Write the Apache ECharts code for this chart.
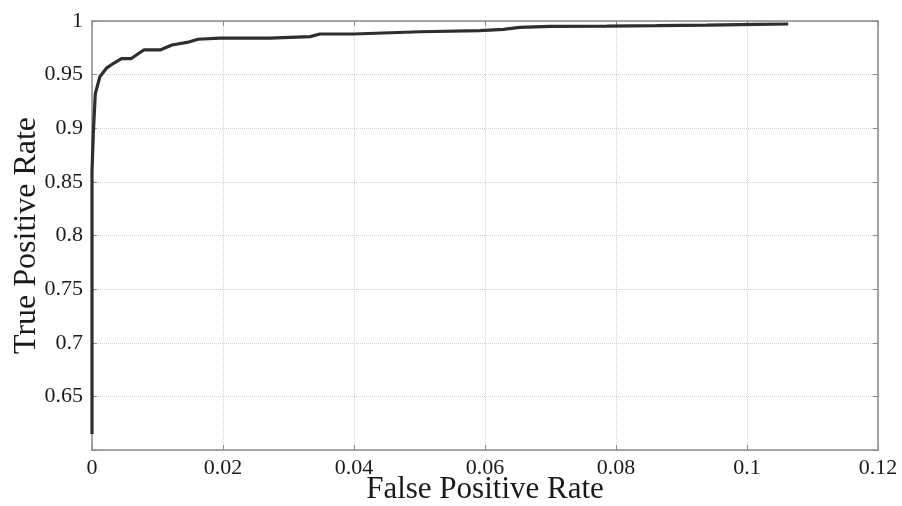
<!DOCTYPE html>
<html>
<head>
<meta charset="utf-8">
<script src="https://cdn.jsdelivr.net/npm/echarts@6/dist/echarts.min.js"></script>
<style>
html, body { margin: 0; padding: 0; background: #fff; }
#chart { width: 902px; height: 506px; }
</style>
</head>
<body>
<div id="chart"></div>
<script>
// ROC curve points
var fpr = [0, 0, 0.0002, 0.0005, 0.0012, 0.0022, 0.0033, 0.0045, 0.006, 0.0079, 0.0104, 0.0122, 0.0145, 0.0162,
    0.0195, 0.0272, 0.0333, 0.0348, 0.0399, 0.0501, 0.0592, 0.0628, 0.0653, 0.0699, 0.0786, 0.0862, 0.0938, 0.1015, 0.1063];
var tpr = [0.615, 0.86, 0.895, 0.932, 0.948, 0.956, 0.9606, 0.965, 0.965, 0.973, 0.973, 0.9776, 0.98, 0.983,
    0.984, 0.984, 0.9854, 0.9879, 0.9879, 0.99, 0.991, 0.9922, 0.9941, 0.9949, 0.9952, 0.9956, 0.9962, 0.9969, 0.9972];
var xTicks = [0, 0.02, 0.04, 0.06, 0.08, 0.1, 0.12];
var yTicks = [0.6, 0.65, 0.7, 0.75, 0.8, 0.85, 0.9, 0.95, 1];

var font = "Liberation Serif";
var myChart = echarts.init(document.getElementById('chart'));

var points = [];
for (var i = 0; i < fpr.length; i++) {
    points.push([fpr[i], tpr[i]]);
}

var boxLine = { show: true, onZero: false, lineStyle: { color: '#8a8a8a', width: 1.5 } };
var inTick = { show: true, inside: true, length: 5, lineStyle: { color: '#8a8a8a' } };

var option = {
    animation: false,
    grid: { left: 92, top: 21, right: 24, bottom: 56, containLabel: false, outerBoundsMode: 'none' },
    xAxis: [{
        type: 'value',
        min: 0, max: 0.12, interval: 0.02,
        name: 'False Positive Rate',
        nameLocation: 'middle',
        nameGap: 24,
        nameMoveOverlap: false,
        nameTextStyle: { fontFamily: font, fontSize: 31, color: '#1a1a1a' },
        axisLine: boxLine,
        axisTick: inTick,
        axisLabel: {
            fontFamily: font, fontSize: 22, color: '#1a1a1a', margin: 7,
            formatter: function (v) { return xTicks.indexOf(+v.toFixed(2)) >= 0 ? String(+v.toFixed(2)) : ''; }
        },
        splitLine: { show: true, lineStyle: { color: '#cfcfcf', type: 'dotted', width: 1 } }
    }, {
        type: 'value', position: 'top',
        min: 0, max: 0.12, interval: 0.02,
        axisLine: boxLine, axisTick: inTick,
        axisLabel: { show: false }, splitLine: { show: false }
    }],
    yAxis: [{
        type: 'value',
        min: 0.6, max: 1, interval: 0.05,
        name: 'True Positive Rate',
        nameLocation: 'middle',
        nameGap: 49,
        nameMoveOverlap: false,
        nameTextStyle: { fontFamily: font, fontSize: 32, color: '#1a1a1a' },
        axisLine: boxLine,
        axisTick: inTick,
        axisLabel: {
            fontFamily: font, fontSize: 22, color: '#1a1a1a', margin: 9,
            formatter: function (v) {
                var r = +v.toFixed(2);
                if (r === 0.6) return '';
                return yTicks.indexOf(r) >= 0 ? String(r) : '';
            }
        },
        splitLine: { show: true, lineStyle: { color: '#cfcfcf', type: 'dotted', width: 1 } }
    }, {
        type: 'value', position: 'right',
        min: 0.6, max: 1, interval: 0.05,
        axisLine: boxLine, axisTick: inTick,
        axisLabel: { show: false }, splitLine: { show: false }
    }],
    series: [{
        type: 'line',
        data: points,
        showSymbol: false,
        lineStyle: { color: '#2e2e2e', width: 3.2 }
    }]
};

myChart.setOption(option);
</script>
</body>
</html>
